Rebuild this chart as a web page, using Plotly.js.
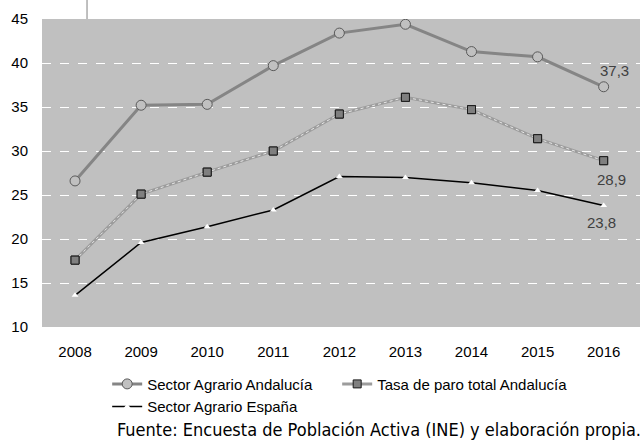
<!DOCTYPE html>
<html>
<head>
<meta charset="utf-8">
<script src="https://cdn.plot.ly/plotly-3.0.1.min.js"></script>
<style>html,body{margin:0;padding:0;background:#fff;}#chart{width:640px;height:445px;}</style>
</head>
<body>
<div id="chart"></div>
<script>
var years = ['2008','2009','2010','2011','2012','2013','2014','2015','2016'];
var agrarioAndalucia = [26.6, 35.2, 35.3, 39.7, 43.4, 44.4, 41.3, 40.7, 37.3];
var paroTotalAndalucia = [17.6, 25.1, 27.6, 30.0, 34.2, 36.1, 34.7, 31.4, 28.9];
var agrarioEspana = [13.6, 19.6, 21.4, 23.3, 27.1, 27.0, 26.4, 25.5, 23.8];
var seriesNames = ['Sector Agrario Andalucía', 'Tasa de paro total Andalucía', 'Sector Agrario España'];
var yTicks = [10, 15, 20, 25, 30, 35, 40, 45];
var sourceText = 'Fuente: Encuesta de Población Activa (INE) y elaboración propia.';

function fmt(v){ return v.toFixed(1).replace('.', ','); }
var last = years.length - 1;

var traces = [
  {
    x: years, y: agrarioAndalucia, name: seriesNames[0], type: 'scatter', mode: 'lines+markers',
    line: {color: '#858585', width: 3},
    marker: {symbol: 'circle', size: 10, color: '#c0c0c0', line: {color: '#5a5a5a', width: 1}},
    hoverinfo: 'x+y'
  },
  {
    x: years, y: paroTotalAndalucia, name: seriesNames[1], type: 'scatter', mode: 'lines+markers',
    line: {color: '#9c9c9c', width: 3},
    marker: {symbol: 'square', size: 8, color: '#7f7f7f', line: {color: '#1a1a1a', width: 1}},
    hoverinfo: 'x+y'
  },
  {
    x: years, y: paroTotalAndalucia, showlegend: false, type: 'scatter', mode: 'lines',
    line: {color: '#e8e8e8', width: 1, dash: 'dot'}, hoverinfo: 'skip'
  },
  {
    x: years, y: paroTotalAndalucia, showlegend: false, type: 'scatter', mode: 'markers',
    marker: {symbol: 'square', size: 8, color: '#7f7f7f', line: {color: '#1a1a1a', width: 1}},
    hoverinfo: 'skip'
  },
  {
    x: years, y: agrarioEspana, name: seriesNames[2], type: 'scatter', mode: 'lines+markers',
    line: {color: '#000000', width: 1.5},
    marker: {symbol: 'triangle-up', size: 6, color: '#ffffff', line: {width: 0}},
    hoverinfo: 'x+y'
  }
];

var labelFont = {family: 'Liberation Sans, Arial, sans-serif', size: 15, color: '#404040'};

var layout = {
  width: 640, height: 445,
  margin: {l: 42, r: 0, t: 19, b: 118},
  paper_bgcolor: '#ffffff',
  plot_bgcolor: '#c0c0c0',
  font: {family: 'Liberation Sans, Arial, sans-serif', size: 15, color: '#000000'},
  showlegend: true,
  xaxis: {
    type: 'category', range: [-0.5, years.length - 0.45],
    showgrid: false, zeroline: false, showline: false, ticks: '',
    ticklabelstandoff: 14,
    tickfont: {size: 15, color: '#000000'}
  },
  yaxis: {
    range: [10, 45], tickvals: yTicks, ticktext: yTicks.map(String),
    showgrid: true, gridcolor: '#ffffff', griddash: 'dash', gridwidth: 1,
    zeroline: false, showline: false, ticks: '',
    ticklabelstandoff: 13,
    tickfont: {size: 15, color: '#000000'}
  },
  legend: {
    orientation: 'h', x: 0.109, xanchor: 'left', y: -0.132, yanchor: 'top',
    entrywidth: 185, entrywidthmode: 'pixels',
    font: {size: 15, color: '#000000'}, bgcolor: 'rgba(0,0,0,0)', itemwidth: 30
  },
  annotations: [
    {x: last, y: agrarioAndalucia[last], xref: 'x', yref: 'y', text: fmt(agrarioAndalucia[last]),
     showarrow: false, xshift: 11, yshift: 16, font: labelFont},
    {x: last, y: paroTotalAndalucia[last], xref: 'x', yref: 'y', text: fmt(paroTotalAndalucia[last]),
     showarrow: false, xshift: 8, yshift: -19, font: labelFont},
    {x: last, y: agrarioEspana[last], xref: 'x', yref: 'y', text: fmt(agrarioEspana[last]),
     showarrow: false, xshift: -2, yshift: -17, font: labelFont},
    {x: 0.122, y: -0.334, xref: 'paper', yref: 'paper', xanchor: 'left', yanchor: 'middle',
     text: sourceText, showarrow: false,
     font: {family: 'DejaVu Sans Condensed, Liberation Sans Narrow, sans-serif', size: 18, color: '#000000'}}
  ],
  shapes: [
    {type: 'line', xref: 'paper', yref: 'paper', x0: 0.0753, x1: 0.0753, y0: 1, y1: 1 + 19/308,
     line: {color: '#808080', width: 1}}
  ]
};

Plotly.newPlot('chart', traces, layout, {displayModeBar: false, staticPlot: true});
</script>
</body>
</html>
